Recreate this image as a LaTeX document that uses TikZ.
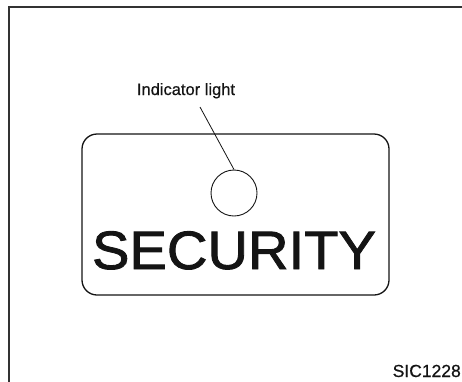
\documentclass[tikz,border=0pt]{standalone}
\usepackage{fontspec}
\setmainfont{Liberation Sans}
\newfontfamily\heavyfont[FakeBold=1.6, FakeStretch=1.04]{Liberation Sans}
\newfontfamily\midfont[FakeBold=0.6]{Liberation Sans}
\usepackage{tikz}
\usetikzlibrary{positioning}
\definecolor{inkc}{RGB}{20,20,20}
\definecolor{framec}{RGB}{50,50,50}

\begin{document}
\begin{tikzpicture}[x=1pt, y=-1pt, inkc,
  panelbox/.style={draw, rounded corners=15pt, line width=1.3pt,
    minimum width=307pt, minimum height=161pt, inner sep=0pt},
  lampc/.style={draw, circle, line width=0.9pt, minimum size=46pt, inner sep=0pt},
  callout/.style={font=\midfont\fontsize{16.5}{18}\selectfont, inner sep=0pt},
  leader/.style={line width=0.8pt}]
\useasboundingbox (0,0) rectangle (462,381);

% outer frame, only left and top edges fall inside the page
\draw[framec, line width=2pt] (9,390) -- (9,7) -- (470,7);

% switch panel, lamp and lettering
\node[panelbox] (panel) at (235.5,214.5) {};
\node[lampc] (lamp) at (234,193) {};
\node[anchor=base, inner sep=0pt, font=\heavyfont\fontsize{54}{57}\selectfont] (word) at (234,269) {SECURITY};

% callout for the lamp
\node[callout, anchor=base] (label) at (186,95) {Indicator light};
\coordinate (tip) at (200,107);
\draw[leader] (tip) -- (lamp.north);

% figure code
\node[anchor=base east, inner sep=0pt, font=\midfont\fontsize{17.5}{19}\selectfont] (code) at (461,377) {SIC1228};
\end{tikzpicture}
\end{document}
